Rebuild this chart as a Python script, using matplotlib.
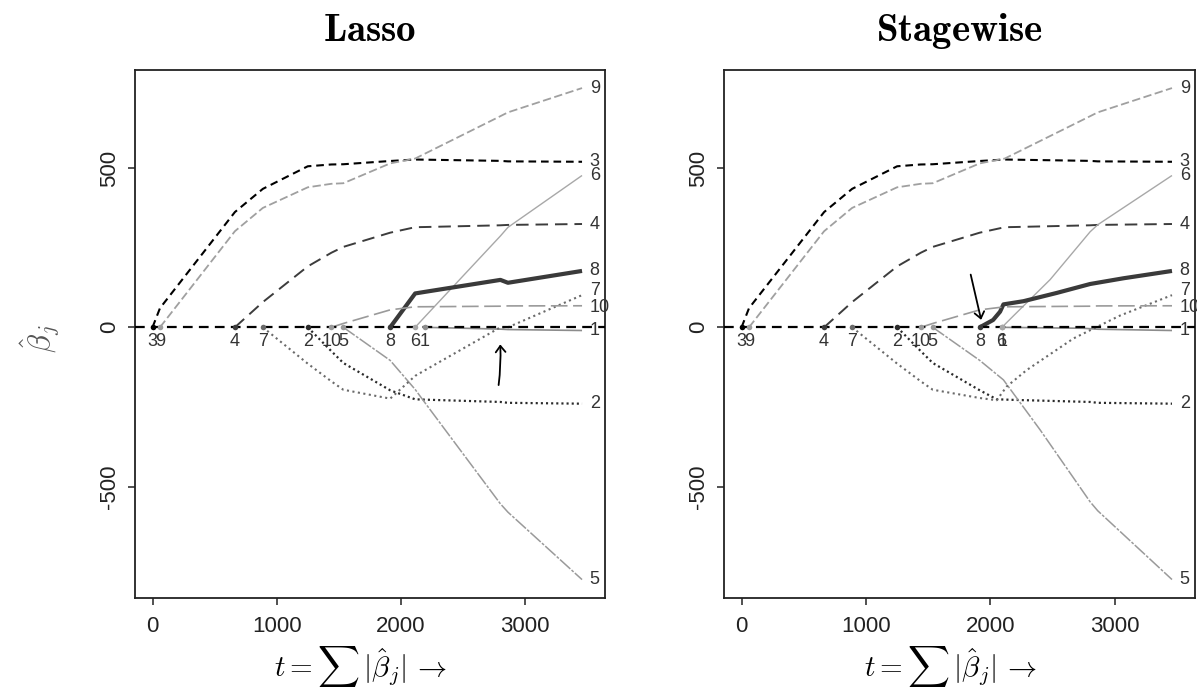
import matplotlib
matplotlib.use("Agg")
import matplotlib.pyplot as plt

plt.rcParams['mathtext.fontset'] = 'cm'
plt.rcParams['font.family'] = ['Liberation Sans', 'DejaVu Sans']
plt.rcParams['lines.scale_dashes'] = False

W, H = 1197, 689

# ---------------- Lasso path (knots of the piecewise-linear path) ----------------
lasso_t = [0, 60.12, 663.67, 888.91, 1250.70, 1440.80, 1537.07, 1914.57,
           2115.74, 2195.56, 2802.37, 2863.01, 3459.99]
lasso_b1 = [0, 0, 0, 0, 0, 0, 0, 0, 0, 0, -5.72, -7.01, -10.01]
lasso_b2 = [0, 0, 0, 0, 0, -74.92, -111.98, -197.76, -226.13, -227.18, -234.40, -237.10, -239.82]
lasso_b3 = [0, 60.12, 361.90, 434.76, 505.66, 511.35, 512.04, 522.27, 526.89, 526.39, 522.65, 521.08, 519.84]
lasso_b4 = [0, 0, 0, 79.24, 191.27, 234.16, 252.53, 297.16, 314.39, 314.95, 320.34, 321.55, 324.39]
lasso_b5 = [0, 0, 0, 0, 0, 0, 0, -103.95, -195.11, -237.34, -554.27, -580.44, -792.18]
lasso_b6 = [0, 0, 0, 0, 0, 0, 0, 0, 0, 33.63, 286.74, 313.86, 476.75]
lasso_b7 = [0, 0, 0, 0, -114.10, -169.71, -196.05, -223.93, -152.48, -134.60, 0, 0, 101.05]
lasso_b8 = [0, 0, 0, 0, 0, 0, 0, 0, 106.34, 111.39, 148.90, 139.86, 177.06]
lasso_b9 = [0, 0, 301.78, 374.92, 439.67, 450.67, 452.39, 514.75, 529.92, 545.48, 663.03, 674.94, 751.28]
lasso_b10 = [0, 0, 0, 0, 0, 0, 12.08, 54.77, 64.49, 64.61, 66.33, 67.18, 67.63]

# ---------------- Forward stagewise path ----------------
stage_t1 = [2093, 2745, 2865, 3460]
stage_b1 = [0, -3, -6, -10]
stage_t2 = [1251, 1441, 1537, 1915, 2051, 2196, 2802, 2863, 3460]
stage_b2 = [0, -74.9, -112.0, -197.8, -226, -228, -234.4, -237.1, -239.8]
stage_t3 = lasso_t
stage_b3 = lasso_b3
stage_t4 = lasso_t
stage_b4 = lasso_b4
stage_t5 = [1537, 1915, 2105, 2400, 2802, 2863, 3460]
stage_b5 = [0, -104, -165, -322, -548, -576, -792]
stage_t6 = [2093, 2196, 2481, 2802, 2863, 3460]
stage_b6 = [0, 40, 150, 300, 322, 476.7]
stage_t7 = [889, 1251, 1441, 1537, 1915, 2051, 2131, 2293, 2668, 2850, 3043, 3460]
stage_b7 = [0, -114.1, -169.7, -196, -222, -229, -186, -134, -35, 0, 37, 101]
stage_t8 = [1915, 2022, 2078, 2105, 2266, 2534, 2802, 3070, 3460]
stage_b8 = [0, 23, 49, 72, 82, 108, 136, 154, 177]
stage_t9 = lasso_t
stage_b9 = lasso_b9
stage_t10 = lasso_t
stage_b10 = lasso_b10

lasso_paths = {
    1: (lasso_t, lasso_b1), 2: (lasso_t, lasso_b2), 3: (lasso_t, lasso_b3),
    4: (lasso_t, lasso_b4), 5: (lasso_t, lasso_b5), 6: (lasso_t, lasso_b6),
    7: (lasso_t, lasso_b7), 8: (lasso_t, lasso_b8), 9: (lasso_t, lasso_b9),
    10: (lasso_t, lasso_b10),
}
stage_paths = {
    1: (stage_t1, stage_b1), 2: (stage_t2, stage_b2), 3: (stage_t3, stage_b3),
    4: (stage_t4, stage_b4), 5: (stage_t5, stage_b5), 6: (stage_t6, stage_b6),
    7: (stage_t7, stage_b7), 8: (stage_t8, stage_b8), 9: (stage_t9, stage_b9),
    10: (stage_t10, stage_b10),
}

# line appearance for each coefficient
styles = {
    1: dict(color='#8c8c8c', lw=1.2, ls='-'),
    2: dict(color='#2a2a2a', lw=1.6, dashes=(1.5, 2.2)),
    3: dict(color='#000000', lw=1.5, dashes=(5.5, 3.5)),
    4: dict(color='#3c3c3c', lw=1.4, dashes=(9, 5)),
    5: dict(color='#9a9a9a', lw=1.1, dashes=(10, 1.2, 2, 1.2)),
    6: dict(color='#a8a8a8', lw=1.0, ls='-'),
    7: dict(color='#6a6a6a', lw=1.5, dashes=(1.5, 2.5)),
    8: dict(color='#3a3a3a', lw=3.0, ls='-'),
    9: dict(color='#a0a0a0', lw=1.3, dashes=(6, 2.5)),
    10: dict(color='#9a9a9a', lw=1.2, dashes=(12, 4)),
}

# small vertical nudges of the end labels (data units) so they sit as drawn
end_nudge = {7: 14, 10: -4}

XLIM = (-141, 3645)
YLIM = (-850, 808)


def entry_index(b):
    for k, v in enumerate(b):
        if v != 0:
            return max(k - 1, 0)
    return 0


def draw_panel(ax, paths, label_shift):
    ax.axhline(0, color='black', lw=1.6, dashes=(7, 4.5), zorder=3)
    for j in range(1, 11):
        t, b = paths[j]
        k = entry_index(b)
        st = styles[j]
        kw = dict(color=st['color'], lw=st['lw'], zorder=2,
                  solid_capstyle='butt', dash_capstyle='butt')
        if 'dashes' in st:
            kw['dashes'] = st['dashes']
        else:
            kw['ls'] = st['ls']
        ax.plot(t[k:], b[k:], **kw)
        ax.plot([t[k]], [0], 'o', ms=4, color=st['color'], mec='none', zorder=4)
        ax.text(t[k] + label_shift.get(j, 0), -45, str(j), ha='center', va='center',
                fontsize=13, color='#333333', zorder=5)
        ax.text(t[-1] + 62, b[-1] + end_nudge.get(j, 0), str(j), ha='left', va='center',
                fontsize=13, color='#333333', clip_on=False, zorder=5)
    ax.set_xlim(*XLIM)
    ax.set_ylim(*YLIM)
    ax.set_xticks([0, 1000, 2000, 3000])
    ax.set_yticks([-500, 0, 500])
    ax.set_yticklabels(['-500', '0', '500'], rotation=90, va='center')
    ax.tick_params(direction='out', length=5, width=1.1, labelsize=16,
                   colors='#222222', pad=6)
    ax.tick_params(axis='x', pad=8)
    for s in ax.spines.values():
        s.set_linewidth(1.3)
        s.set_color('#222222')


fig = plt.figure(figsize=(W / 100, H / 100), dpi=100)
fig.patch.set_facecolor('white')


def px_axes(x0, y0, x1, y1):
    return fig.add_axes([x0 / W, 1 - y1 / H, (x1 - x0) / W, (y1 - y0) / H])


ax1 = px_axes(135, 70, 605, 598)
ax2 = px_axes(724, 70, 1195, 598)

draw_panel(ax1, lasso_paths, {})
draw_panel(ax2, stage_paths, {6: -3, 1: 3})

# panel titles
fig.text(370 / W, 1 - 31 / H, r'$\mathbf{Lasso}$', ha='center', va='center', fontsize=28)
fig.text(959 / W, 1 - 31 / H, r'$\mathbf{Stagewise}$', ha='center', va='center', fontsize=28)

# axis labels
for x_c in (360, 950):
    fig.text(x_c / W, 1 - 666 / H, r'$t = \sum\, |\hat{\beta}_j|\, \rightarrow$',
             ha='center', va='center', fontsize=21)
fig.text(40 / W, 1 - 338 / H, r'$\hat{\beta}_j$', ha='center', va='center',
         fontsize=22, rotation=90, color='#555555')

# hand-drawn markers pointing at where the two paths differ
ax1.annotate('', xy=(2800, -45), xytext=(2785, -190),
             arrowprops=dict(arrowstyle='->,head_width=0.35,head_length=0.45',
                             color='black', lw=1.3, connectionstyle='arc3,rad=0.05'))
ax2.annotate('', xy=(1931, 15), xytext=(1837, 174),
             arrowprops=dict(arrowstyle='->,head_width=0.35,head_length=0.45',
                             color='black', lw=1.3))

fig.savefig('out.png', dpi=100, facecolor='white')
